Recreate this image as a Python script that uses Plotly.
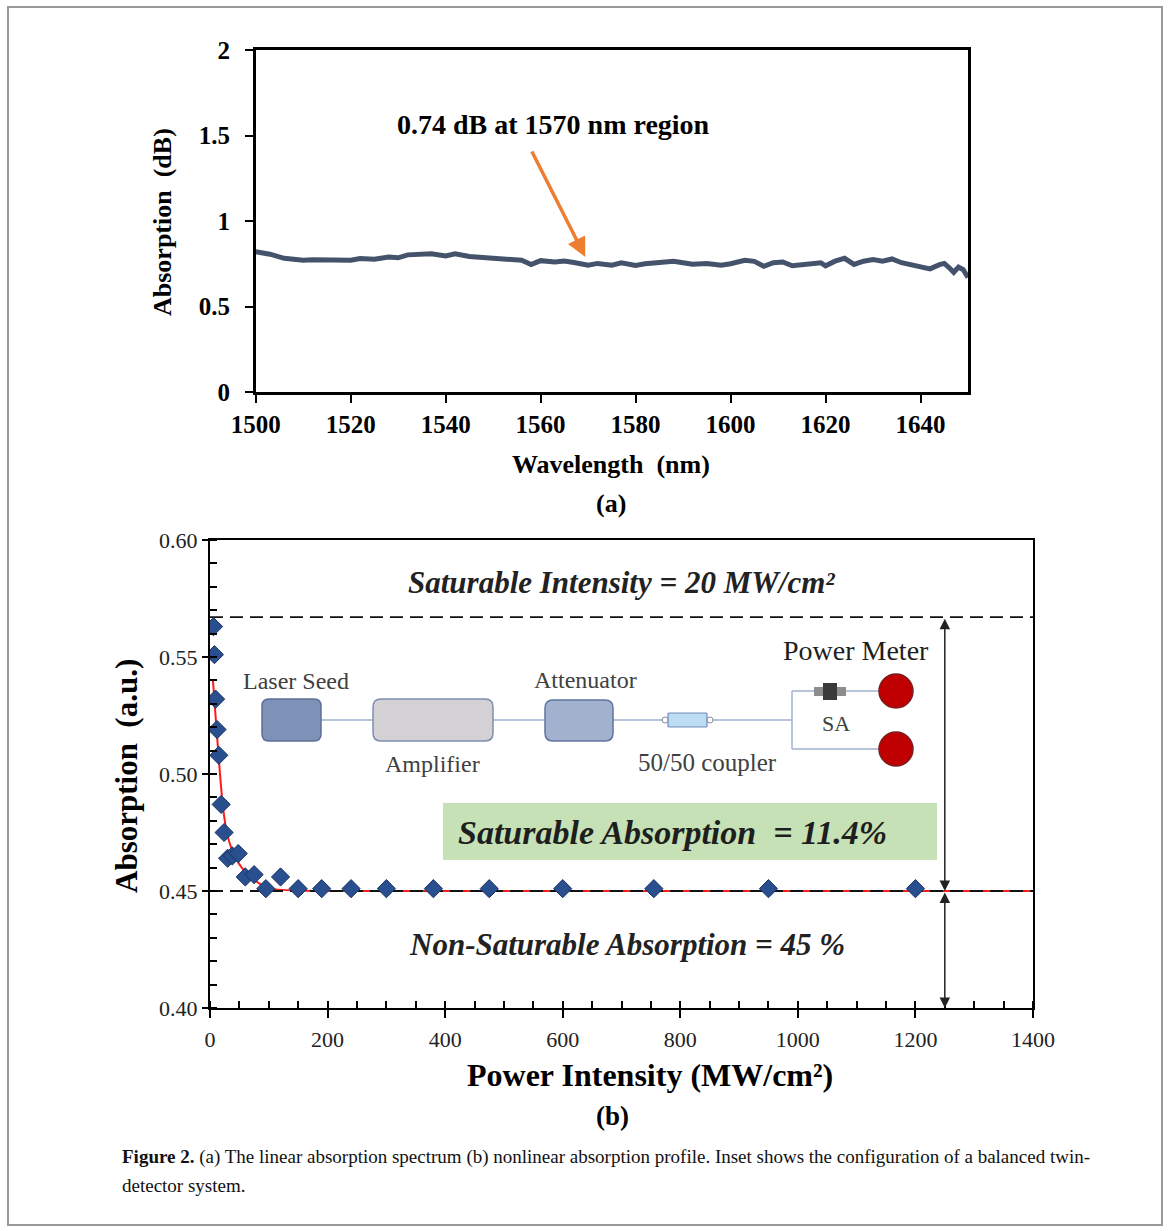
import plotly.graph_objects as go

W, H = 1169, 1231

# ---------------- data: (a) linear absorption spectrum ----------------
wavelength_nm = [1500, 1503, 1506, 1508, 1510, 1512, 1515, 1518, 1520, 1522, 1525, 1528, 1530,
                 1532, 1535, 1537, 1540, 1542, 1545, 1548, 1550, 1553, 1556, 1558, 1560, 1563,
                 1565, 1567, 1570, 1572, 1575, 1577, 1580, 1582, 1585, 1588, 1590, 1592, 1595,
                 1598, 1600, 1603, 1605, 1607, 1609, 1611, 1613, 1615, 1617, 1619, 1620, 1622,
                 1624, 1626, 1628, 1630, 1632, 1634, 1636, 1638, 1640, 1642, 1644, 1645, 1646,
                 1647, 1648, 1649, 1650]
absorption_db = [0.820, 0.806, 0.782, 0.774, 0.770, 0.774, 0.772, 0.774, 0.770, 0.780, 0.777,
                 0.790, 0.785, 0.802, 0.810, 0.808, 0.796, 0.808, 0.792, 0.786, 0.786, 0.778,
                 0.770, 0.745, 0.768, 0.760, 0.766, 0.757, 0.742, 0.752, 0.742, 0.756, 0.740,
                 0.750, 0.759, 0.765, 0.756, 0.747, 0.752, 0.742, 0.750, 0.770, 0.764, 0.735,
                 0.756, 0.760, 0.738, 0.742, 0.750, 0.756, 0.738, 0.765, 0.782, 0.746, 0.765,
                 0.774, 0.765, 0.778, 0.756, 0.742, 0.735, 0.720, 0.745, 0.752, 0.728, 0.700,
                 0.730, 0.715, 0.670]

# ---------------- data: (b) nonlinear absorption ----------------
intensity = [6, 7.5, 9.5, 12, 15, 19, 24, 30, 38, 48, 60, 75, 95, 120, 150, 190, 240, 300,
             380, 475, 600, 755, 950, 1200]
absorption_au = [0.563, 0.551, 0.532, 0.519, 0.508, 0.487, 0.475, 0.464, 0.465, 0.466, 0.456,
                 0.457, 0.451, 0.456, 0.451, 0.451, 0.451, 0.451, 0.451, 0.451, 0.451, 0.451,
                 0.451, 0.451]
fit_intensity = [5, 8, 10, 13, 17, 22, 28, 34, 44, 54, 70, 85, 110, 150, 200, 400, 800, 1400]
fit_absorption = [0.540, 0.530, 0.523, 0.513, 0.500, 0.486, 0.476, 0.470, 0.464, 0.460, 0.456,
                  0.453, 0.4508, 0.4502, 0.4500, 0.4500, 0.4500, 0.4500]
sat_level = 0.567
nonsat_level = 0.45
arrow_x = 1250

x_ticks_a = [1500, 1520, 1540, 1560, 1580, 1600, 1620, 1640]
y_ticks_a = [0, 0.5, 1, 1.5, 2]
x_ticks_b = [0, 200, 400, 600, 800, 1000, 1200, 1400]
y_ticks_b = [0.40, 0.45, 0.50, 0.55, 0.60]


def X(px):
    return px / W


def Y(py):
    return 1 - py / H


SERIF = "Liberation Serif"

fig = go.Figure()

# (a) spectrum
fig.add_trace(go.Scatter(x=wavelength_nm, y=absorption_db, mode="lines",
                         line=dict(color="#44536b", width=5), xaxis="x", yaxis="y",
                         showlegend=False, hoverinfo="skip"))

# (b) fit, reference lines, data
fig.add_trace(go.Scatter(x=fit_intensity, y=fit_absorption, mode="lines",
                         line=dict(color="#ff1a1a", width=2, shape="spline", smoothing=0.8),
                         xaxis="x2", yaxis="y2", showlegend=False, hoverinfo="skip"))
for lvl in (sat_level, nonsat_level):
    fig.add_trace(go.Scatter(x=[0, 1400], y=[lvl, lvl], mode="lines",
                             line=dict(color="#111111", width=1.8, dash="13px,7px"),
                             xaxis="x2", yaxis="y2", showlegend=False, hoverinfo="skip"))
fig.add_trace(go.Scatter(x=intensity, y=absorption_au, mode="markers",
                         marker=dict(symbol="diamond", size=14, color="#2a4f8f",
                                     line=dict(color="#1a3363", width=1)),
                         xaxis="x2", yaxis="y2", showlegend=False, hoverinfo="skip"))

axis_common = dict(showline=True, linecolor="black", mirror=True, showgrid=False,
                   zeroline=False, ticks="outside", tickcolor="black", automargin=False)

fig.update_layout(
    template="none",
    width=W, height=H, margin=dict(l=0, r=0, t=0, b=0, pad=0, autoexpand=False),
    autosize=False,
    paper_bgcolor="white", plot_bgcolor="white",
    xaxis=dict(domain=[X(255.7), X(968)], anchor="y", range=[1500, 1650],
               tickvals=x_ticks_a, ticklen=8, tickwidth=2, linewidth=2.5,
               tickfont=dict(family=SERIF, size=25, color="black", weight="bold"),
               ticklabelstandoff=0, **axis_common),
    yaxis=dict(domain=[Y(392), Y(50)], anchor="x", range=[0, 2],
               tickvals=y_ticks_a, ticktext=["0", "0.5", "1", "1.5", "2"],
               ticklen=8, tickwidth=2, linewidth=2.5,
               tickfont=dict(family=SERIF, size=25, color="black", weight="bold"),
               ticklabelstandoff=10, **axis_common),
    xaxis2=dict(domain=[X(210), X(1033)], anchor="y2", range=[0, 1400],
                tickvals=x_ticks_b, ticklen=8, tickwidth=2, linewidth=2.2,
                tickfont=dict(family=SERIF, size=22, color="#222222"),
                ticklabelstandoff=2,
                minor=dict(dtick=50, ticks="inside", ticklen=7, tickwidth=2,
                           tickcolor="black"),
                **axis_common),
    yaxis2=dict(domain=[Y(1008), Y(540)], anchor="x2", range=[0.40, 0.60],
                tickvals=y_ticks_b, tickformat=".2f", ticklen=6, tickwidth=2,
                linewidth=2.2,
                tickfont=dict(family=SERIF, size=22, color="#222222"),
                ticklabelstandoff=0,
                minor=dict(dtick=0.01, ticks="inside", ticklen=7, tickwidth=2,
                           tickcolor="black"),
                **axis_common),
)

shapes = []
# outer figure border
shapes.append(dict(type="rect", xref="paper", yref="paper", x0=X(8), y0=Y(1225),
                   x1=X(1162), y1=Y(7), line=dict(color="#999999", width=2),
                   fillcolor="rgba(0,0,0,0)", layer="below"))
# green box
shapes.append(dict(type="rect", xref="paper", yref="paper", x0=X(443), y0=Y(860),
                   x1=X(937), y1=Y(803), line=dict(width=0), fillcolor="#c6e1b5",
                   layer="below"))


def rrect(x0, y0, x1, y1, r, fill, line, lw=1.5):
    rx, ry = r, r
    p = (f"M {X(x0 + rx)},{Y(y0)} L {X(x1 - rx)},{Y(y0)} Q {X(x1)},{Y(y0)} {X(x1)},{Y(y0 + ry)} "
         f"L {X(x1)},{Y(y1 - ry)} Q {X(x1)},{Y(y1)} {X(x1 - rx)},{Y(y1)} "
         f"L {X(x0 + rx)},{Y(y1)} Q {X(x0)},{Y(y1)} {X(x0)},{Y(y1 - ry)} "
         f"L {X(x0)},{Y(y0 + ry)} Q {X(x0)},{Y(y0)} {X(x0 + rx)},{Y(y0)} Z")
    return dict(type="path", xref="paper", yref="paper", path=p, fillcolor=fill,
                line=dict(color=line, width=lw), layer="above")


def seg(x0, y0, x1, y1, color="#9fb0cf", w=1.5):
    return dict(type="line", xref="paper", yref="paper", x0=X(x0), y0=Y(y0), x1=X(x1),
                y1=Y(y1), line=dict(color=color, width=w), layer="above")


# inset connections
shapes += [seg(321, 720, 373, 720), seg(493, 720, 545, 720), seg(613, 720, 664, 720),
           seg(711, 720, 792, 720), seg(792, 691, 792, 749), seg(792, 691, 880, 691),
           seg(792, 749, 880, 749)]
# inset boxes
shapes.append(rrect(262, 699, 321, 741, 7, "#7e92b7", "#5b6f98"))
shapes.append(rrect(373, 699, 493, 741, 8, "#d3d1d3", "#7d8eb0"))
shapes.append(rrect(545, 700, 613, 741, 8, "#a2b1cd", "#5f74a0"))
shapes.append(rrect(668, 713, 707, 727, 1, "#bcdcf3", "#6d8cb8", 1.2))
for cx in (665, 710):
    shapes.append(dict(type="circle", xref="paper", yref="paper", x0=X(cx - 3), y0=Y(723),
                       x1=X(cx + 3), y1=Y(717), fillcolor="white",
                       line=dict(color="#8a8a8a", width=1), layer="above"))
# SA component
shapes.append(dict(type="rect", xref="paper", yref="paper", x0=X(814), y0=Y(696), x1=X(846),
                   y1=Y(687), fillcolor="#8d8d8d", line=dict(width=0), layer="above"))
shapes.append(dict(type="rect", xref="paper", yref="paper", x0=X(823), y0=Y(700), x1=X(837),
                   y1=Y(683), fillcolor="#3a3a3a", line=dict(width=0), layer="above"))
# power meters
for cy in (691, 749):
    shapes.append(dict(type="circle", xref="paper", yref="paper", x0=X(879), y0=Y(cy + 17),
                       x1=X(913), y1=Y(cy - 17), fillcolor="#c00000",
                       line=dict(color="#7a1f1f", width=1.5), layer="above"))

fig.update_layout(shapes=shapes)

ann = []


def txt(s, px, py, size, bold=False, italic=False, color="black", angle=0, anchor="center",
        family=SERIF):
    t = s
    if bold:
        t = f"<b>{t}</b>"
    if italic:
        t = f"<i>{t}</i>"
    ann.append(dict(text=t, x=X(px), y=Y(py), xref="paper", yref="paper", showarrow=False,
                    xanchor=anchor, yanchor="middle", textangle=angle,
                    font=dict(family=family, size=size, color=color)))


# (a) labels
txt("0.74 dB at 1570 nm region", 553, 125, 28, bold=True)
txt("Wavelength  (nm)", 611, 464, 26, bold=True)
txt("Absorption  (dB)", 162, 222, 26, bold=True, angle=-90)
txt("(a)", 611, 504, 26, bold=True)

# (b) labels
txt("Power Intensity (MW/cm²)", 650, 1075, 32, bold=True)
txt("Absorption  (a.u.)", 126, 776, 31, bold=True, angle=-90)
txt("(b)", 612, 1116, 27, bold=True)
txt("Saturable Intensity = 20 MW/cm²", 621, 582, 31, bold=True, italic=True, color="#222")
txt("Non-Saturable Absorption = 45 %", 627, 944, 31, bold=True, italic=True, color="#222")
txt("Saturable Absorption  = 11.4%", 672, 832, 34, bold=True, italic=True, color="#1e1e1e")

# inset texts
txt("Laser Seed", 296, 681, 24, color="#404040")
txt("Amplifier", 432, 764, 24, color="#404040")
txt("Attenuator", 585, 680, 24, color="#404040")
txt("50/50 coupler", 707, 762, 25, color="#404040")
txt("SA", 836, 723, 22, color="#404040")
txt("Power Meter", 856, 650, 28, color="#1e1e1e")

# caption (two lines)
ann.append(dict(text="<b>Figure 2.</b> (a) The linear absorption spectrum (b) nonlinear absorption "
                     "profile. Inset shows the configuration of a balanced twin-",
                x=X(120), y=Y(1157), xref="paper", yref="paper", showarrow=False,
                xanchor="left", yanchor="middle", align="left",
                font=dict(family=SERIF, size=19, color="#111111")))
ann.append(dict(text="detector system.",
                x=X(120), y=Y(1185), xref="paper", yref="paper", showarrow=False,
                xanchor="left", yanchor="middle", align="left",
                font=dict(family=SERIF, size=19, color="#111111")))

# orange arrow in (a)
ann.append(dict(x=1569.4, y=0.79, ax=1558, ay=1.415, xref="x", yref="y", axref="x", ayref="y",
                text="", showarrow=True, arrowhead=2, arrowsize=1.1, arrowwidth=3.5,
                arrowcolor="#ed7d31", standoff=0))

# double arrows in (b)
for y0, y1 in ((sat_level, nonsat_level), (nonsat_level, 0.40)):
    ann.append(dict(x=arrow_x, y=y1, ax=arrow_x, ay=y0, xref="x2", yref="y2", axref="x2",
                    ayref="y2", text="", showarrow=True, arrowhead=2, startarrowhead=2,
                    arrowside="end+start", arrowsize=1.4, startarrowsize=1.4, arrowwidth=1.5,
                    arrowcolor="#222222", standoff=0, startstandoff=0))

fig.update_layout(annotations=ann)

fig.write_html("out.html", config={"displayModeBar": False},
               post_script="document.body.style.margin='0px';"
                           "document.body.style.padding='0px';")
